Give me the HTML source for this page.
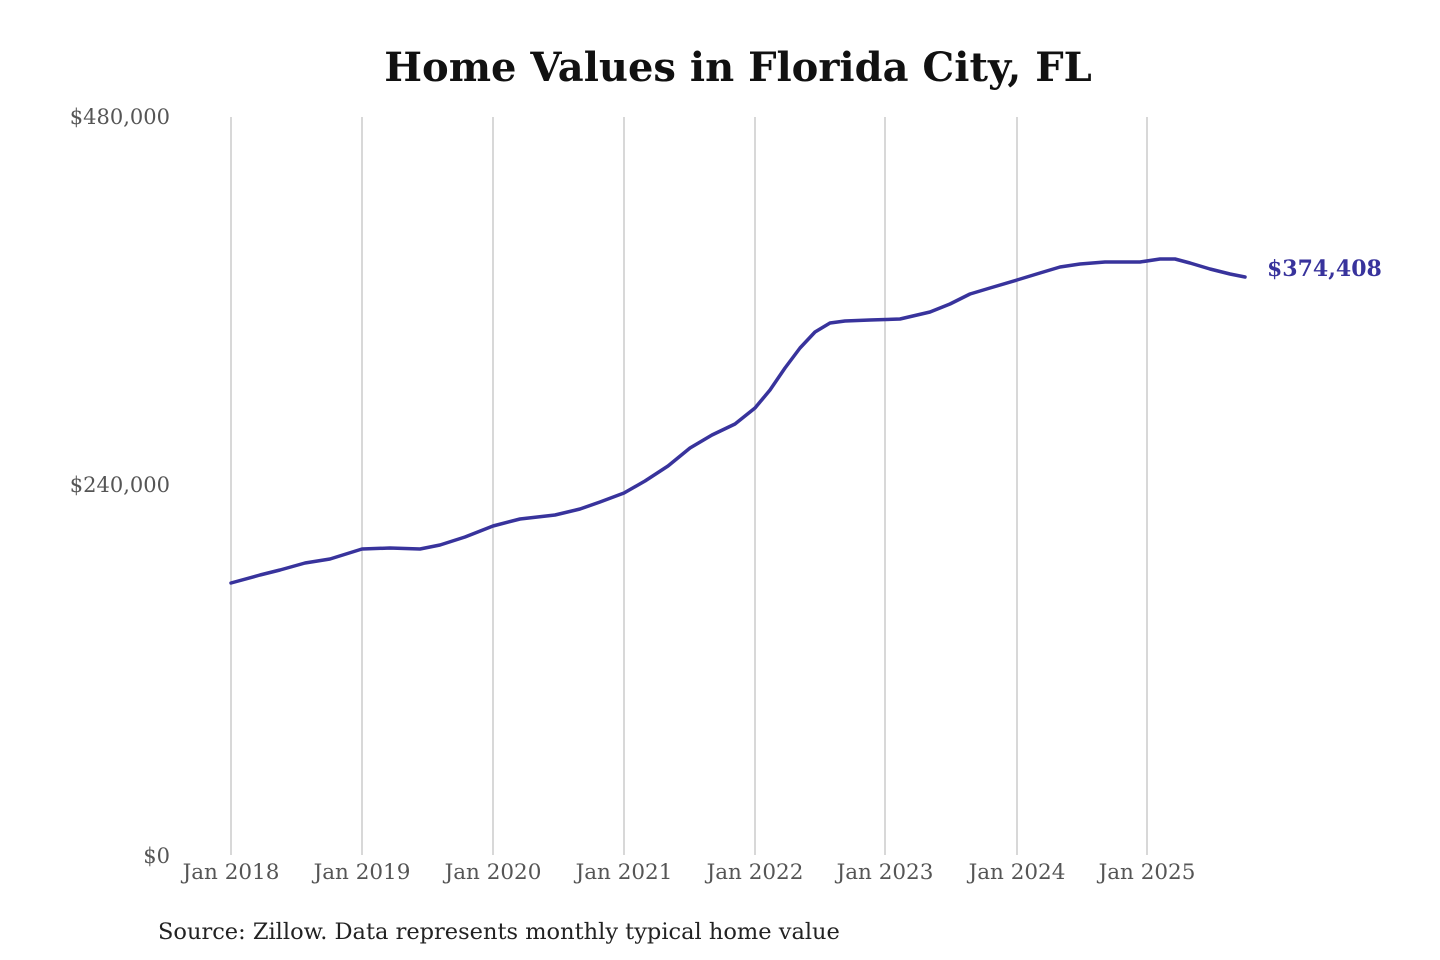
<!DOCTYPE html>
<html><head><meta charset="utf-8"><style>
html,body{margin:0;padding:0;background:#fff;}
svg{display:block;}
</style></head><body>
<svg width="1440" height="960" xmlns="http://www.w3.org/2000/svg" font-family="'DejaVu Serif','Liberation Serif',serif">
<text x="738" y="81" text-anchor="middle" font-size="40" font-weight="bold" fill="#111">Home Values in Florida City, FL</text>
<g stroke="#bdbdbd" stroke-width="1.2">
<line x1="231" y1="117" x2="231" y2="855"/>
<line x1="362" y1="117" x2="362" y2="855"/>
<line x1="493" y1="117" x2="493" y2="855"/>
<line x1="624" y1="117" x2="624" y2="855"/>
<line x1="755" y1="117" x2="755" y2="855"/>
<line x1="885" y1="117" x2="885" y2="855"/>
<line x1="1017" y1="117" x2="1017" y2="855"/>
<line x1="1147" y1="117" x2="1147" y2="855"/>
</g>
<g font-size="21" fill="#555" text-anchor="end">
<text x="170" y="124">$480,000</text>
<text x="170" y="492">$240,000</text>
<text x="170" y="863">$0</text>
</g>
<g font-size="21.5" fill="#555" text-anchor="middle">
<text x="231" y="879">Jan 2018</text>
<text x="362" y="879">Jan 2019</text>
<text x="493" y="879">Jan 2020</text>
<text x="624" y="879">Jan 2021</text>
<text x="755" y="879">Jan 2022</text>
<text x="885" y="879">Jan 2023</text>
<text x="1017" y="879">Jan 2024</text>
<text x="1147" y="879">Jan 2025</text>
</g>
<polyline fill="none" stroke="#38339c" stroke-width="3.5" stroke-linejoin="round" stroke-linecap="round" points="231,583 260,575 280,570 305,563 330,559 362,549 390,548 420,549 440,545 465,537 493,526 520,519 555,515 580,509 600,502 624,493 645,481 668,466 690,448 712,435 735,424 755,408 770,390 785,368 800,348 815,332 830,323 845,321 870,320 900,319 930,312 950,304 970,294 990,288 1017,280 1040,273 1060,267 1080,264 1105,262 1140,262 1160,259 1175,259 1190,263 1210,269 1230,274 1245,277"/>
<text x="1267" y="276" font-size="22" font-weight="bold" fill="#38339c">$374,408</text>
<text x="158" y="939" font-size="22.5" fill="#222">Source: Zillow. Data represents monthly typical home value</text>
</svg>
</body></html>
